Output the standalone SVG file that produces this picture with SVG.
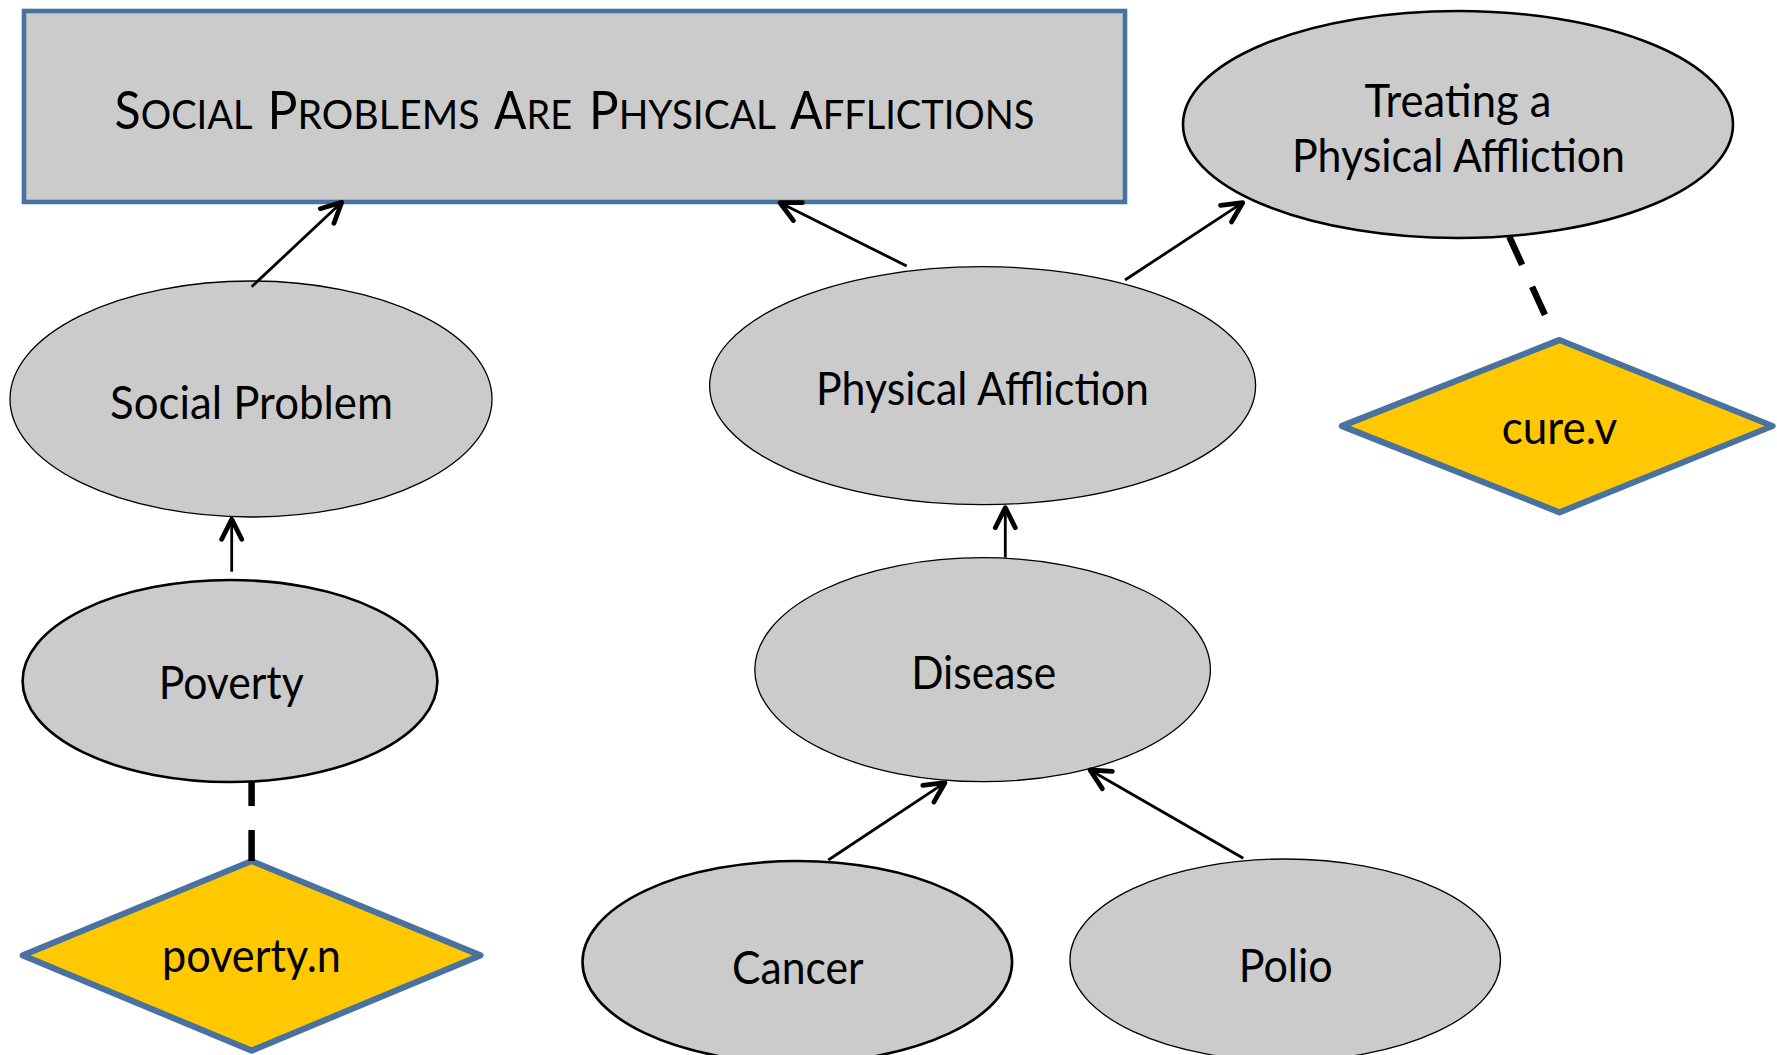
<svg xmlns="http://www.w3.org/2000/svg" width="1777" height="1055" viewBox="0 0 1777 1055">
  <style>
    .frame { fill: #cbcbcb; stroke: #4a72a0; stroke-width: 4.6; }
    .concept { fill: #cbcbcb; stroke: #000; stroke-width: 1.3; }
    .concept.bold { stroke-width: 2.6; }
    .lexeme { fill: #ffc800; stroke: #4a72a0; stroke-width: 6.2; stroke-linejoin: round; }
    text { font-family: Lato, "Open Sans", "Liberation Sans", sans-serif; fill: #000; text-anchor: middle; }
    .label { font-size: 46px; }
    .title { font-size: 52px; text-anchor: start; }
    .sc { font-size: 41px; }
    .link { stroke: #000; stroke-width: 2.8; fill: none; marker-end: url(#open-arrow); }
    .evokes { stroke: #000; stroke-width: 6.5; fill: none; stroke-dasharray: 31 24; }
  </style>
  <defs>
    <marker id="open-arrow" markerUnits="userSpaceOnUse" markerWidth="40" markerHeight="40" refX="0" refY="0" orient="auto" overflow="visible">
      <path d="M -20 -10 L 0 0 L -20 10" fill="none" stroke="#000" stroke-width="4.8" stroke-linecap="round" stroke-linejoin="round"/>
    </marker>
  </defs>

  <rect width="1777" height="1055" fill="#fff"/>

  <!-- frame heading, set word by word in small caps -->
  <g id="frame-social-problems">
    <rect class="frame" x="24" y="11" width="1101" height="191"/>
    <text class="title" x="114.5" y="129.3" textLength="138" lengthAdjust="spacingAndGlyphs">S<tspan class="sc">OCIAL</tspan></text>
    <text class="title" x="267.5" y="129.3" textLength="212" lengthAdjust="spacingAndGlyphs">P<tspan class="sc">ROBLEMS</tspan></text>
    <text class="title" x="494" y="129.3" textLength="78" lengthAdjust="spacingAndGlyphs">A<tspan class="sc">RE</tspan></text>
    <text class="title" x="589" y="129.3" textLength="187" lengthAdjust="spacingAndGlyphs">P<tspan class="sc">HYSICAL</tspan></text>
    <text class="title" x="790" y="129.3" textLength="244.5" lengthAdjust="spacingAndGlyphs">A<tspan class="sc">FFLICTIONS</tspan></text>
  </g>

  <g id="node-treating">
    <ellipse class="concept bold" cx="1458" cy="124.5" rx="275" ry="113.5"/>
    <text class="label" x="1458" y="116.7" textLength="187" lengthAdjust="spacingAndGlyphs">Treating a</text>
    <text class="label" x="1458.5" y="172.3" textLength="333" lengthAdjust="spacingAndGlyphs">Physical Affliction</text>
  </g>

  <g id="node-social-problem">
    <ellipse class="concept" cx="251" cy="399" rx="241" ry="118"/>
    <text class="label" x="251.5" y="419.3" textLength="283" lengthAdjust="spacingAndGlyphs">Social Problem</text>
  </g>

  <g id="node-physical-affliction">
    <ellipse class="concept" cx="982.6" cy="385.7" rx="273" ry="119"/>
    <text class="label" x="982.5" y="404.6" textLength="333" lengthAdjust="spacingAndGlyphs">Physical Affliction</text>
  </g>

  <g id="node-cure-v">
    <polygon class="lexeme" points="1559.5,340 1772.5,426 1559.5,512.3 1341.9,426"/>
    <text class="label" x="1559.5" y="444.3" textLength="115.6" lengthAdjust="spacingAndGlyphs">cure.v</text>
  </g>

  <g id="node-poverty">
    <ellipse class="concept bold" cx="230" cy="681" rx="207.4" ry="101"/>
    <text class="label" x="231.2" y="699.3" textLength="145" lengthAdjust="spacingAndGlyphs">Poverty</text>
  </g>

  <g id="node-disease">
    <ellipse class="concept" cx="982.6" cy="669.7" rx="227.8" ry="112"/>
    <text class="label" x="983.7" y="689" textLength="145" lengthAdjust="spacingAndGlyphs">Disease</text>
  </g>

  <g id="node-poverty-n">
    <polygon class="lexeme" points="251.6,861 480.5,955.4 251.6,1050.6 22.7,955.4"/>
    <text class="label" x="251.5" y="972.4" textLength="179" lengthAdjust="spacingAndGlyphs">poverty.n</text>
  </g>

  <g id="node-cancer">
    <ellipse class="concept bold" cx="797.3" cy="962" rx="214.8" ry="101"/>
    <text class="label" x="797.8" y="983.7" textLength="131.5" lengthAdjust="spacingAndGlyphs">Cancer</text>
  </g>

  <g id="node-polio">
    <ellipse class="concept" cx="1285.2" cy="960" rx="215.3" ry="101"/>
    <text class="label" x="1285.7" y="981.5" textLength="94" lengthAdjust="spacingAndGlyphs">Polio</text>
  </g>

  <!-- connectors: inheritance arrows and dashed evokes links -->
  <g id="connectors">
    <line class="link" x1="251.7" y1="286.7" x2="341.7" y2="202.3"/>
    <line class="link" x1="906.7" y1="266" x2="780" y2="202.7"/>
    <line class="link" x1="1125" y1="280" x2="1242.7" y2="202.7"/>
    <line class="link" x1="231.7" y1="571.7" x2="231.7" y2="519.3"/>
    <line class="link" x1="1005.3" y1="557.6" x2="1005.3" y2="507.7"/>
    <line class="link" x1="828.3" y1="860" x2="945" y2="782.7"/>
    <line class="link" x1="1243.3" y1="858.3" x2="1090" y2="770"/>
    <line class="evokes" x1="1509.3" y1="236.7" x2="1546" y2="317.3"/>
    <line class="evokes" x1="251.6" y1="782" x2="251.6" y2="861" stroke-dashoffset="7"/>
  </g>
</svg>
